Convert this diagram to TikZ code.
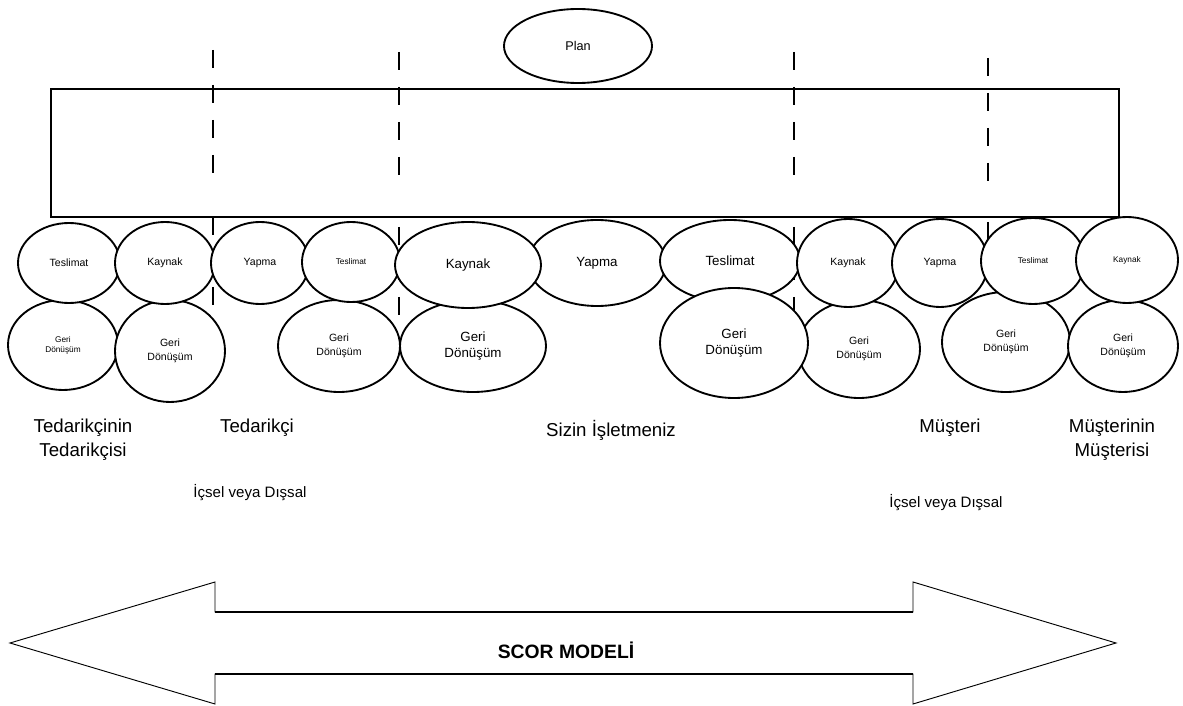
\documentclass[tikz,border=0pt]{standalone}
\usepackage{fontspec}
\setmainfont{Liberation Sans}
\usetikzlibrary{shapes.geometric}

\begin{document}
\begin{tikzpicture}[x=0.75pt,y=-0.75pt,
  proc/.style 2 args={ellipse, draw, fill=white, line width=1.4pt, inner sep=0pt,
    align=center, minimum width=#1*1.5pt, minimum height=#2*1.5pt},
  fxs/.style={font=\fontsize{6.2pt}{7.5pt}\selectfont},
  fsm/.style={font=\fontsize{7.9pt}{10.5pt}\selectfont},
  fmd/.style={font=\fontsize{10pt}{12.5pt}\selectfont},
  divider/.style={line width=1.4pt, dash pattern=on 13.5pt off 12.75pt},
  lbl/.style={align=center, inner sep=0pt, font=\fontsize{14pt}{18pt}\selectfont},
  sublbl/.style={inner sep=0pt, font=\fontsize{11.3pt}{13pt}\selectfont}]
\useasboundingbox (0,0) rectangle (1183,706);

% planning layer
\node[proc={74}{37}, font=\fontsize{9.5pt}{11pt}\selectfont] (plan) at (578,46) {Plan};
\draw[line width=1.5pt] (51,89) rectangle (1119,217);

% dividers between the chain partners
\foreach \x/\a/\b/\c/\d in {213/50/175/217/308, 399/52/176/227/318, 794/52/176/227/318, 988/58/182/222/242}{
  \coordinate (u) at (\x,\a); \coordinate (v) at (\x,\b);
  \coordinate (p) at (\x,\c); \coordinate (q) at (\x,\d);
  \draw[divider] (u) -- (v);
  \draw[divider] (p) -- (q);
}

% return processes
\node[proc={55}{45}, fxs] (g1) at (63,345) {Geri\\Dönüşüm};
\node[proc={55}{51}, fsm] (g2) at (170,351) {Geri\\Dönüşüm};
\node[proc={61}{46}, fsm] (g3) at (339,346) {Geri\\Dönüşüm};
\node[proc={73}{46}, fmd] (g4) at (473,346) {Geri\\Dönüşüm};
\node[proc={61}{49}, fsm] (g6) at (859,349) {Geri\\Dönüşüm};
\node[proc={64}{50}, fsm] (g7) at (1006,342) {Geri\\Dönüşüm};
\node[proc={55}{46}, fsm] (g8) at (1123,346) {Geri\\Dönüşüm};

% source / make / deliver processes
\node[proc={51}{40}, fsm] (t1) at (69,263) {Teslimat};
\node[proc={50}{41}, fsm] (k1) at (165,263) {Kaynak};
\node[proc={49}{41}, fsm] (y1) at (260,263) {Yapma};
\node[proc={49}{40}, fxs] (t2) at (351,262) {Teslimat};
\node[proc={69}{43}, fmd] (y2) at (597,263) {Yapma};
\node[proc={73}{43}, fmd] (k2) at (468,265) {Kaynak};
\node[proc={70}{41}, fmd] (t3) at (730,261) {Teslimat};
\node[proc={74}{55}, fmd] (g5) at (734,343) {Geri\\Dönüşüm};
\node[proc={51}{44}, fsm] (k3) at (848,263) {Kaynak};
\node[proc={48}{44}, fsm] (y3) at (940,263) {Yapma};
\node[proc={52}{43}, fxs] (t4) at (1033,261) {Teslimat};
\node[proc={51}{43}, fxs] (k4) at (1127,260) {Kaynak};

% partner labels
\node[lbl] (ss) at (83,440) {Tedarikçinin\\Tedarikçisi};
\node[lbl] (s) at (257,428) {Tedarikçi};
\node[lbl] (own) at (611,430) {Sizin İşletmeniz};
\node[lbl] (c) at (950,428) {Müşteri};
\node[lbl] (cc) at (1112,440) {Müşterinin\\Müşterisi};
\node[sublbl] (ie1) at (250,493) {İçsel veya Dışsal};
\node[sublbl] (ie2) at (946,503) {İçsel veya Dışsal};

% model scope arrow
\draw[line width=0.7pt, line join=miter]
  (10,643) -- (215,582) -- (215,612) -- (913,612) -- (913,582) -- (1116,643)
  -- (913,704) -- (913,674) -- (215,674) -- (215,704) -- cycle;
\draw[line width=1.4pt] (215,612) -- (913,612);
\draw[line width=1.4pt] (215,674) -- (913,674);
\node[inner sep=0pt, font=\fontsize{14.5pt}{16pt}\selectfont\bfseries] (scor) at (566,650) {SCOR MODELİ};
\end{tikzpicture}
\end{document}
